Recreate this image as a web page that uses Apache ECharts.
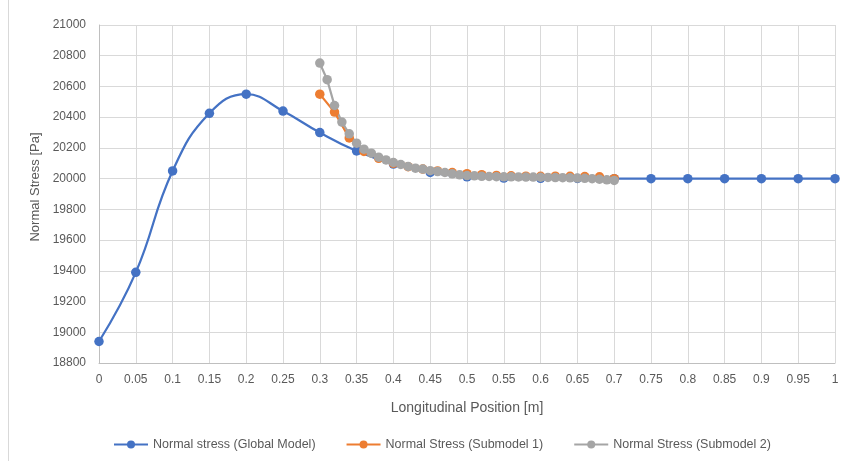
<!DOCTYPE html>
<html>
<head>
<meta charset="utf-8">
<script src="https://cdn.jsdelivr.net/npm/echarts@6/dist/echarts.min.js"></script>
<style>
  html, body { margin: 0; padding: 0; background: #fff; }
  #chart { width: 844px; height: 461px; }
</style>
</head>
<body>
<div id="chart"></div>
<script>
/* ---------- 数据 ---------- */
// 全局模型：0 ~ 1，步长 0.05
const globalX = [0, 0.05, 0.1, 0.15, 0.2, 0.25, 0.3, 0.35, 0.4, 0.45, 0.5,
                 0.55, 0.6, 0.65, 0.7, 0.75, 0.8, 0.85, 0.9, 0.95, 1];
const globalY = [18940, 19390, 20050, 20425, 20550, 20440, 20300, 20180, 20095, 20040, 20012,
                 20004, 20002, 20001, 20000, 20000, 20000, 20000, 20000, 20000, 20000];

// 子模型 1：0.3 ~ 0.7，步长 0.02
const sub1X = [0.30, 0.32, 0.34, 0.36, 0.38, 0.40, 0.42, 0.44, 0.46, 0.48, 0.50,
               0.52, 0.54, 0.56, 0.58, 0.60, 0.62, 0.64, 0.66, 0.68, 0.70];
const sub1Y = [20550, 20433, 20265, 20177, 20132, 20100, 20078, 20062, 20050, 20040, 20032,
               20026, 20021, 20018, 20016, 20015, 20016, 20015, 20014, 20012, 20000];

// 子模型 2：0.3 ~ 0.7，步长 0.01
const sub2X = [0.30, 0.31, 0.32, 0.33, 0.34, 0.35, 0.36, 0.37, 0.38, 0.39, 0.40,
               0.41, 0.42, 0.43, 0.44, 0.45, 0.46, 0.47, 0.48, 0.49, 0.50,
               0.51, 0.52, 0.53, 0.54, 0.55, 0.56, 0.57, 0.58, 0.59, 0.60,
               0.61, 0.62, 0.63, 0.64, 0.65, 0.66, 0.67, 0.68, 0.69, 0.70];
const sub2Y = [20752, 20644, 20476, 20368, 20292, 20231, 20192, 20166, 20140, 20122, 20105,
               20092, 20079, 20068, 20062, 20052, 20046, 20040, 20031, 20025, 20020,
               20018, 20015, 20014, 20013, 20012, 20012, 20011, 20010, 20010, 20009,
               20008, 20007, 20006, 20005, 20004, 20002, 20000, 19996, 19992, 19988];

const seriesNames = ["Normal stress (Global Model)", "Normal Stress (Submodel 1)", "Normal Stress (Submodel 2)"];
const colors = ["#4472C4", "#ED7D31", "#A5A5A5"];

/* ---------- 工具 ---------- */
const zip = (xs, ys) => xs.map((x, i) => [x, ys[i]]);
const FONT = "'Liberation Sans', Arial, sans-serif";
const TXT = "#595959";
const GRID = "#d9d9d9";

const chart = echarts.init(document.getElementById("chart"), null, { renderer: "canvas" });

const lineSeries = (idx, data, smooth) => ({
    name: seriesNames[idx],
    type: "line",
    data: data,
    smooth: smooth,
    symbol: "circle",
    symbolSize: 9.5,
    showSymbol: true,
    itemStyle: { color: colors[idx] },
    lineStyle: { color: colors[idx], width: 2.25 },
    emphasis: { disabled: true },
    animation: false,
});

chart.setOption({
    backgroundColor: "#fff",
    animation: false,
    textStyle: { fontFamily: FONT },
    grid: { left: 99, right: 9, top: 25, bottom: 98 },
    legend: {
        left: 108,
        top: 433,
        itemGap: 30,
        itemWidth: 34,
        itemHeight: 10,
        textStyle: { color: TXT, fontSize: 12.5, fontFamily: FONT },
        data: seriesNames,
    },
    graphic: [{
        type: "line",
        shape: { x1: 8.5, y1: 0, x2: 8.5, y2: 461 },
        style: { stroke: GRID, lineWidth: 1 },
        silent: true,
    }],
    xAxis: {
        type: "value",
        min: 0,
        max: 1,
        interval: 0.05,
        name: "Longitudinal Position [m]",
        nameLocation: "middle",
        nameGap: 38,
        nameTextStyle: { color: TXT, fontSize: 14, fontFamily: FONT },
        axisLine: { show: true, lineStyle: { color: "#bfbfbf", width: 1 } },
        axisTick: { show: false },
        axisLabel: {
            color: TXT, fontSize: 12, margin: 11,
            formatter: (v) => String(+v.toFixed(2)),
        },
        splitLine: { show: true, lineStyle: { color: GRID, width: 1 } },
    },
    yAxis: {
        type: "value",
        min: 18800,
        max: 21000,
        interval: 200,
        name: "Normal Stress [Pa]",
        nameLocation: "middle",
        nameGap: 51,
        nameTextStyle: { color: TXT, fontSize: 13, fontFamily: FONT, padding: [0, 0, 0, 14] },
        axisLine: { show: true, lineStyle: { color: "#bfbfbf", width: 1 } },
        axisTick: { show: false },
        axisLabel: { color: TXT, fontSize: 12, margin: 13, formatter: (v) => String(v) },
        splitLine: { show: true, lineStyle: { color: GRID, width: 1 } },
    },
    series: [
        lineSeries(0, zip(globalX, globalY), 0.45),
        lineSeries(1, zip(sub1X, sub1Y), false),
        lineSeries(2, zip(sub2X, sub2Y), false),
    ],
});

window.addEventListener("resize", () => chart.resize());
</script>
</body>
</html>
